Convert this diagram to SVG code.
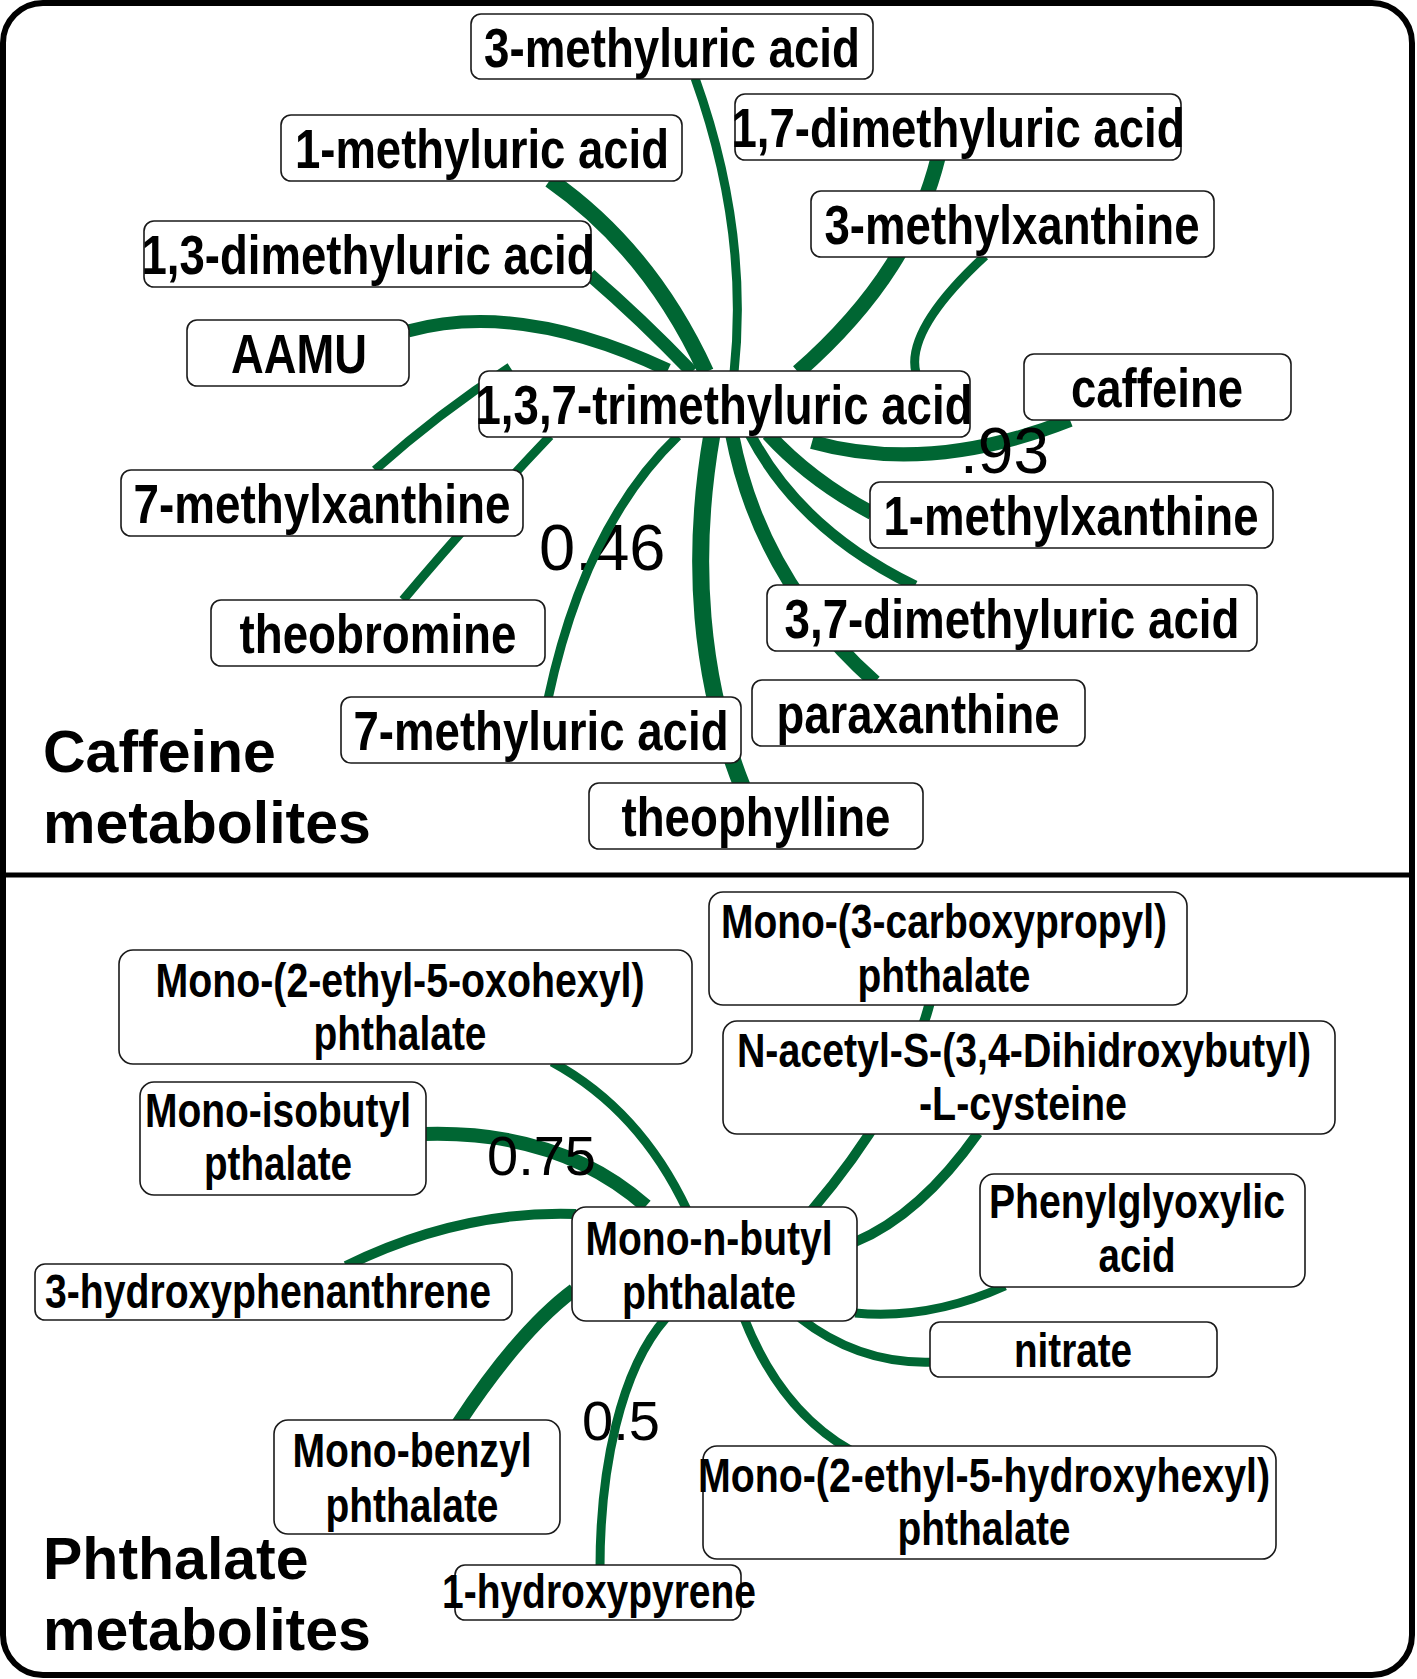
<svg xmlns="http://www.w3.org/2000/svg" width="1417" height="1679" viewBox="0 0 1417 1679">
<style>
.frame{fill:none;stroke:#000;stroke-width:6}
.box{fill:#fff;stroke:#1a1a1a;stroke-width:1.6}
.lc{font-family:"Liberation Sans Narrow","Liberation Sans",Arial,sans-serif;font-weight:bold;font-size:55px;fill:#000;text-anchor:middle}
.lp{font-family:"Liberation Sans Narrow","Liberation Sans",Arial,sans-serif;font-weight:bold;font-size:48px;fill:#000;text-anchor:middle}
.title{font-family:"Liberation Sans",Arial,sans-serif;font-weight:bold;font-size:59px;fill:#000}
.w{font-family:"Liberation Sans",Arial,sans-serif;fill:#000}
.e{fill:none;stroke:#006633;stroke-linecap:butt}
</style>
<rect x="0" y="0" width="1417" height="1679" fill="#fff"/>
<rect class="frame" x="3" y="3" width="1409" height="1672" rx="40"/>
<line x1="3" y1="875" x2="1412" y2="875" stroke="#000" stroke-width="5"/>
<text class="title" x="43" y="772">Caffeine</text>
<text class="title" x="43" y="843">metabolites</text>
<text class="title" x="43" y="1579">Phthalate</text>
<text class="title" x="43" y="1650">metabolites</text>
<text class="w" x="539" y="570" font-size="65">0.46</text>
<text class="w" x="582" y="1440" font-size="56">0.5</text>
<g id="connectors">
<path class="e" stroke-width="9" d="M695,78 C728,170 745,270 734,373"/>
<path class="e" stroke-width="15" d="M938,158 C920,230 880,300 798,372"/>
<path class="e" stroke-width="16" d="M550,180 Q650,250 706,372"/>
<path class="e" stroke-width="9" d="M985,256 Q905,330 916,373"/>
<path class="e" stroke-width="13" d="M590,275 Q640,318 692,372"/>
<path class="e" stroke-width="13" d="M408,331 Q520,300 668,370"/>
<path class="e" stroke-width="14" d="M812,442 Q930,475 1070,420"/>
<path class="e" stroke-width="9" d="M375,470 Q440,412 510,367"/>
<path class="e" stroke-width="14" d="M768,434 Q810,480 872,513"/>
<path class="e" stroke-width="9" d="M403,600 Q470,520 550,436"/>
<path class="e" stroke-width="11" d="M750,434 Q800,530 915,586"/>
<path class="e" stroke-width="14" d="M732,434 Q760,580 875,682"/>
<path class="e" stroke-width="9" d="M548,699 Q585,525 678,436"/>
<path class="e" stroke-width="17" d="M712,434 C690,560 700,680 742,786"/>
<path class="e" stroke-width="10" d="M930,1002 C915,1060 880,1130 812,1210"/>
<path class="e" stroke-width="10" d="M978,1133 Q920,1215 855,1242"/>
<path class="e" stroke-width="9" d="M552,1062 Q640,1110 687,1210"/>
<path class="e" stroke-width="14" d="M424,1134 Q560,1130 646,1206"/>
<path class="e" stroke-width="10" d="M346,1266 Q460,1210 576,1214"/>
<path class="e" stroke-width="9" d="M1005,1286 Q930,1320 855,1313"/>
<path class="e" stroke-width="9" d="M800,1318 Q860,1365 934,1362"/>
<path class="e" stroke-width="14" d="M458,1424 Q520,1330 574,1290"/>
<path class="e" stroke-width="9" d="M744,1318 Q780,1410 850,1450"/>
<path class="e" stroke-width="9" d="M600,1568 C600,1470 620,1370 666,1318"/>
</g>
<text class="w" x="960" y="473" font-size="64">.93</text>
<text class="w" x="487" y="1175" font-size="56">0.75</text>
<g id="n_3methyluric"><rect class="box" x="471" y="14" width="402" height="65" rx="10"/><text class="lc" x="672" y="67" textLength="376" lengthAdjust="spacingAndGlyphs">3-methyluric acid</text></g>
<g id="n_17dimethyluric"><rect class="box" x="735" y="94" width="446" height="66" rx="10"/><text class="lc" x="958" y="147" textLength="453" lengthAdjust="spacingAndGlyphs">1,7-dimethyluric acid</text></g>
<g id="n_1methyluric"><rect class="box" x="281" y="115" width="401" height="66" rx="10"/><text class="lc" x="482" y="168" textLength="374" lengthAdjust="spacingAndGlyphs">1-methyluric acid</text></g>
<g id="n_3methylxanthine"><rect class="box" x="811" y="191" width="403" height="66" rx="10"/><text class="lc" x="1012" y="244" textLength="375" lengthAdjust="spacingAndGlyphs">3-methylxanthine</text></g>
<g id="n_13dimethyluric"><rect class="box" x="144" y="221" width="447" height="66" rx="10"/><text class="lc" x="368" y="274" textLength="453" lengthAdjust="spacingAndGlyphs">1,3-dimethyluric acid</text></g>
<g id="n_aamu"><rect class="box" x="187" y="320" width="222" height="66" rx="10"/><text class="lc" x="299" y="373" textLength="136" lengthAdjust="spacingAndGlyphs">AAMU</text></g>
<g id="n_137trimethyluric"><rect class="box" x="479" y="371" width="491" height="66" rx="10"/><text class="lc" x="724" y="424" textLength="497" lengthAdjust="spacingAndGlyphs">1,3,7-trimethyluric acid</text></g>
<g id="n_caffeine"><rect class="box" x="1024" y="354" width="267" height="66" rx="10"/><text class="lc" x="1157" y="407" textLength="172" lengthAdjust="spacingAndGlyphs">caffeine</text></g>
<g id="n_7methylxanthine"><rect class="box" x="121" y="470" width="402" height="66" rx="10"/><text class="lc" x="322" y="523" textLength="377" lengthAdjust="spacingAndGlyphs">7-methylxanthine</text></g>
<g id="n_1methylxanthine"><rect class="box" x="870" y="482" width="403" height="66" rx="10"/><text class="lc" x="1071" y="535" textLength="375" lengthAdjust="spacingAndGlyphs">1-methylxanthine</text></g>
<g id="n_theobromine"><rect class="box" x="211" y="600" width="334" height="66" rx="10"/><text class="lc" x="378" y="653" textLength="277" lengthAdjust="spacingAndGlyphs">theobromine</text></g>
<g id="n_37dimethyluric"><rect class="box" x="767" y="585" width="490" height="66" rx="10"/><text class="lc" x="1012" y="638" textLength="455" lengthAdjust="spacingAndGlyphs">3,7-dimethyluric acid</text></g>
<g id="n_paraxanthine"><rect class="box" x="752" y="680" width="333" height="66" rx="10"/><text class="lc" x="918" y="733" textLength="283" lengthAdjust="spacingAndGlyphs">paraxanthine</text></g>
<g id="n_7methyluric"><rect class="box" x="341" y="697" width="400" height="66" rx="10"/><text class="lc" x="541" y="750" textLength="375" lengthAdjust="spacingAndGlyphs">7-methyluric acid</text></g>
<g id="n_theophylline"><rect class="box" x="589" y="783" width="334" height="66" rx="10"/><text class="lc" x="756" y="836" textLength="269" lengthAdjust="spacingAndGlyphs">theophylline</text></g>
<g id="n_carboxypropyl"><rect class="box" x="709" y="892" width="478" height="113" rx="14"/><text class="lp" x="944" y="938" textLength="446" lengthAdjust="spacingAndGlyphs">Mono-(3-carboxypropyl)</text><text class="lp" x="944" y="992" textLength="173" lengthAdjust="spacingAndGlyphs">phthalate</text></g>
<g id="n_nacetyl"><rect class="box" x="723" y="1021" width="612" height="113" rx="14"/><text class="lp" x="1024" y="1067" textLength="574" lengthAdjust="spacingAndGlyphs">N-acetyl-S-(3,4-Dihidroxybutyl)</text><text class="lp" x="1023" y="1120" textLength="208" lengthAdjust="spacingAndGlyphs">-L-cysteine</text></g>
<g id="n_oxohexyl"><rect class="box" x="119" y="950" width="573" height="114" rx="14"/><text class="lp" x="400" y="997" textLength="489" lengthAdjust="spacingAndGlyphs">Mono-(2-ethyl-5-oxohexyl)</text><text class="lp" x="400" y="1050" textLength="173" lengthAdjust="spacingAndGlyphs">phthalate</text></g>
<g id="n_isobutyl"><rect class="box" x="140" y="1082" width="286" height="113" rx="14"/><text class="lp" x="278" y="1127" textLength="266" lengthAdjust="spacingAndGlyphs">Mono-isobutyl</text><text class="lp" x="278" y="1180" textLength="148" lengthAdjust="spacingAndGlyphs">pthalate</text></g>
<g id="n_phenylglyoxylic"><rect class="box" x="980" y="1174" width="325" height="113" rx="14"/><text class="lp" x="1137" y="1218" textLength="296" lengthAdjust="spacingAndGlyphs">Phenylglyoxylic</text><text class="lp" x="1137" y="1272" textLength="77" lengthAdjust="spacingAndGlyphs">acid</text></g>
<g id="n_3hydroxyphenanthrene"><rect class="box" x="35" y="1264" width="477" height="56" rx="10"/><text class="lp" x="268" y="1308" textLength="446" lengthAdjust="spacingAndGlyphs">3-hydroxyphenanthrene</text></g>
<g id="n_nitrate"><rect class="box" x="930" y="1322" width="287" height="55" rx="10"/><text class="lp" x="1073" y="1367" textLength="118" lengthAdjust="spacingAndGlyphs">nitrate</text></g>
<g id="n_monobenzyl"><rect class="box" x="274" y="1420" width="286" height="114" rx="14"/><text class="lp" x="412" y="1467" textLength="239" lengthAdjust="spacingAndGlyphs">Mono-benzyl</text><text class="lp" x="412" y="1522" textLength="173" lengthAdjust="spacingAndGlyphs">phthalate</text></g>
<g id="n_hydroxyhexyl"><rect class="box" x="703" y="1446" width="573" height="113" rx="14"/><text class="lp" x="984" y="1492" textLength="572" lengthAdjust="spacingAndGlyphs">Mono-(2-ethyl-5-hydroxyhexyl)</text><text class="lp" x="984" y="1545" textLength="173" lengthAdjust="spacingAndGlyphs">phthalate</text></g>
<g id="n_1hydroxypyrene"><rect class="box" x="455" y="1565" width="286" height="55" rx="10"/><text class="lp" x="599" y="1608" textLength="314" lengthAdjust="spacingAndGlyphs">1-hydroxypyrene</text></g>
<g id="n_monobutyl"><rect class="box" x="572" y="1207" width="285" height="114" rx="14"/><text class="lp" x="709" y="1255" textLength="247" lengthAdjust="spacingAndGlyphs">Mono-n-butyl</text><text class="lp" x="709" y="1309" textLength="174" lengthAdjust="spacingAndGlyphs">phthalate</text></g>
</svg>
